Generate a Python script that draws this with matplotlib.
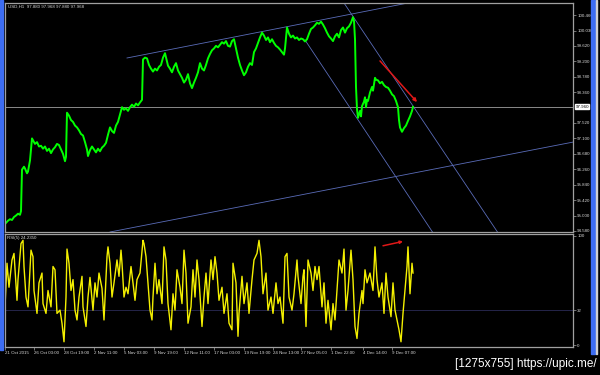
import numpy as np
import matplotlib.pyplot as plt
from matplotlib.patches import Rectangle

plt.rcParams['font.family'] = ['Liberation Sans', 'DejaVu Sans']

# hourly USD index, sampled off the chart (x = bar position on screen)
price_bar = [6, 8, 10, 12, 14, 16, 18, 20, 21, 22, 24, 25, 27, 28, 30, 32, 33, 35, 37, 39,
             41, 43, 45, 47, 49, 51, 53, 55, 57, 59, 61, 63, 65, 66, 67, 69, 71, 73, 75, 77,
             79, 81, 83, 85, 87, 88, 90, 92, 94, 96, 98, 100, 102, 104, 106, 108, 110, 112, 114, 116,
             118, 120, 122, 124, 126, 128, 130, 132, 134, 136, 138, 140, 142, 143, 145, 147, 149, 151, 153, 155,
             157, 159, 161, 163, 165, 167, 168, 170, 172, 174, 176, 178, 180, 182, 184, 186, 188, 190, 192, 194,
             196, 198, 200, 202, 204, 206, 208, 210, 212, 214, 216, 218, 220, 222, 224, 226, 228, 230, 232, 234,
             236, 238, 240, 242, 244, 246, 248, 250, 252, 254, 256, 258, 260, 262, 264, 266, 268, 270, 272, 274,
             276, 278, 280, 282, 284, 285, 287, 289, 291, 293, 295, 297, 299, 301, 303, 305, 307, 309, 311, 313,
             315, 317, 319, 321, 323, 325, 327, 329, 331, 333, 335, 337, 339, 341, 343, 345, 347, 349, 351, 353,
             354, 355, 356, 357, 358, 360, 361, 362, 364, 365, 366, 367, 368, 370, 372, 373, 375, 376, 378, 380,
             382, 384, 386, 388, 390, 392, 394, 396, 398, 399, 400, 402, 404, 406, 408, 410, 412, 413]
price = [94.80, 94.86, 94.90, 94.88, 94.96, 95.00, 95.05, 95.02, 95.12, 96.25, 96.33, 96.28, 96.15, 96.20, 96.50, 97.10, 97.05, 96.95, 97.00, 96.88,
         96.90, 96.82, 96.88, 96.76, 96.82, 96.70, 96.80, 96.86, 96.95, 96.92, 96.80, 96.68, 96.48, 96.60, 97.80, 97.72, 97.60, 97.55, 97.45, 97.40,
         97.32, 97.22, 97.18, 97.00, 96.80, 96.62, 96.78, 96.88, 96.80, 96.72, 96.82, 96.75, 96.85, 96.90, 96.98, 97.20, 97.40, 97.30, 97.25, 97.45,
         97.55, 97.75, 97.95, 97.88, 97.92, 97.85, 97.95, 98.02, 97.96, 98.05, 98.00, 98.08, 98.15, 99.25, 99.30, 99.28, 99.10, 99.00, 98.92, 99.00,
         98.95, 99.05, 99.10, 99.30, 99.42, 99.20, 99.08, 99.00, 98.90, 99.05, 99.15, 98.95, 98.85, 98.75, 98.62, 98.70, 98.85, 98.60, 98.47, 98.62,
         98.75, 98.90, 99.15, 99.00, 98.95, 99.10, 99.28, 99.40, 99.50, 99.55, 99.62, 99.58, 99.65, 99.72, 99.68, 99.75, 99.62, 99.60, 99.75, 99.80,
         99.55, 99.30, 99.10, 98.95, 98.82, 98.90, 99.05, 99.15, 99.10, 99.45, 99.55, 99.70, 99.85, 99.98, 99.90, 99.78, 99.85, 99.72, 99.80, 99.70,
         99.62, 99.58, 99.52, 99.45, 99.38, 99.55, 100.12, 99.95, 99.85, 99.90, 99.82, 99.85, 99.78, 99.82, 99.80, 99.74, 99.80, 99.95, 100.08, 100.12,
         100.18, 100.25, 100.22, 100.28, 100.20, 100.10, 99.98, 99.88, 99.82, 99.75, 99.88, 99.95, 99.85, 100.05, 100.12, 99.98, 100.10, 100.15, 100.25, 100.40,
         100.30, 99.80, 98.50, 97.90, 97.66, 97.85, 97.70, 97.98, 98.10, 98.22, 97.95, 98.15, 98.12, 98.35, 98.50, 98.40, 98.75, 98.70, 98.68, 98.60,
         98.64, 98.55, 98.50, 98.48, 98.40, 98.30, 98.25, 98.12, 97.95, 97.60, 97.40, 97.28, 97.38, 97.45, 97.58, 97.70, 97.85, 97.96]

rsi_bar = [5, 7, 9, 12, 14, 17, 18, 21, 23, 24, 26, 28, 31, 33, 34, 37, 39, 42, 43, 46,
           48, 51, 53, 55, 57, 60, 62, 64, 66, 67, 69, 71, 73, 75, 77, 79, 82, 83, 86, 88,
           90, 93, 95, 97, 99, 102, 104, 107, 108, 110, 112, 114, 117, 119, 121, 122, 124, 126, 128, 131,
           133, 135, 137, 140, 143, 144, 146, 148, 150, 152, 153, 155, 157, 159, 162, 164, 166, 168, 171, 173,
           175, 177, 180, 182, 184, 186, 188, 191, 193, 195, 197, 199, 202, 204, 206, 208, 211, 213, 215, 217,
           219, 222, 224, 227, 229, 232, 233, 236, 238, 239, 242, 244, 247, 249, 252, 254, 257, 259, 261, 263,
           266, 268, 271, 273, 276, 278, 280, 283, 285, 287, 289, 292, 294, 297, 298, 301, 303, 304, 306, 308,
           311, 313, 315, 317, 319, 322, 324, 326, 328, 331, 333, 335, 337, 339, 342, 344, 346, 348, 351, 353,
           355, 357, 359, 362, 363, 365, 367, 370, 373, 375, 377, 379, 382, 384, 386, 388, 391, 393, 395, 397,
           399, 401, 403, 405, 407, 408, 410, 412, 413]
rsi = [35, 75, 53, 78, 84, 41, 60, 93, 96, 72, 44, 35, 87, 81, 50, 29, 57, 66, 38, 29,
       50, 35, 72, 69, 29, 32, 20, 3, 44, 88, 75, 50, 60, 32, 23, 44, 63, 35, 17, 44,
       62, 32, 57, 44, 66, 52, 23, 81, 90, 75, 44, 57, 78, 63, 87, 75, 44, 53, 47, 72,
       57, 41, 60, 66, 96, 93, 81, 57, 32, 23, 44, 75, 47, 60, 38, 90, 78, 38, 14, 47,
       32, 69, 53, 38, 87, 66, 20, 35, 69, 44, 78, 60, 17, 44, 66, 38, 78, 60, 81, 66,
       41, 53, 29, 47, 20, 14, 75, 57, 8, 29, 63, 38, 57, 29, 60, 78, 84, 96, 81, 47,
       66, 32, 44, 29, 57, 38, 44, 20, 81, 84, 44, 32, 47, 78, 63, 38, 63, 69, 17, 78,
       66, 50, 72, 60, 72, 35, 57, 20, 41, 14, 38, 23, 50, 78, 66, 88, 32, 50, 87, 60,
       17, 6, 29, 50, 38, 69, 57, 66, 50, 90, 60, 44, 57, 29, 66, 44, 26, 57, 32, 23,
       14, 3, 29, 50, 72, 90, 47, 75, 66]

price_ticks = [94.58, 95.00, 95.42, 95.84, 96.26, 96.68, 97.10, 97.52, 98.36, 98.78, 99.20, 99.62, 100.03, 100.46]
price_tick_labels = ['94.580', '95.000', '95.420', '95.840', '96.260', '96.680', '97.100', '97.520',
                     '98.360', '98.780', '99.200', '99.620', '100.030', '100.460']
last_price = 97.96
rsi_level = 32

date_bars = [5, 34, 64, 94, 124, 154, 184, 214, 244, 273, 301, 331, 363, 392]
date_labels = ['21 Oct 2015', '26 Oct 03:00', '28 Oct 19:00', '2 Nov 11:00', '5 Nov 03:00',
               '9 Nov 19:00', '12 Nov 11:00', '17 Nov 03:00', '19 Nov 19:00', '24 Nov 13:00',
               '27 Nov 05:00', '1 Dec 22:00', '4 Dec 14:00', '9 Dec 07:00']

# trend lines drawn on the chart: (bar, price) end points
channel_up = [(127, 99.29), (408, 100.787)]
channel_low = [(110, 94.552), (573, 97.00)]
channel_dn1 = [(305, 99.78), (433, 94.53)]
channel_dn2 = [(344, 100.787), (498, 94.53)]
arrow_price = [(380, 99.21), (417, 98.09)]
arrow_rsi = [(383, 91), (403, 95)]

W, H = 600, 375
fig = plt.figure(figsize=(6, 3.75), dpi=100, facecolor='black')
ax = fig.add_axes([5 / W, 1 - 232 / H, 568 / W, 229 / H], facecolor='black')
ax2 = fig.add_axes([5 / W, 1 - 347 / H, 568 / W, 113 / H], facecolor='black')

frame = '#a0a0a0'
txt = '#d8d8d8'
line_blue = '#5a6cb8'

for a in (ax, ax2):
    for s in a.spines.values():
        s.set_color(frame)
        s.set_linewidth(0.9)
    a.set_xlim(5, 573)
    a.yaxis.tick_right()
    a.tick_params(axis='both', colors=frame, labelcolor=txt, labelsize=3.2,
                  length=2, width=0.5, pad=1)

# price panel
ax.axhline(last_price, color='#8a8a8a', lw=0.7)
for seg in (channel_up, channel_low, channel_dn1, channel_dn2):
    xs, ys = zip(*seg)
    ax.plot(xs, ys, color=line_blue, lw=0.6)
ax.plot(price_bar, price, color='#00ff00', lw=1.4)
ax.annotate('', xy=arrow_price[1], xytext=arrow_price[0],
            arrowprops=dict(arrowstyle='-|>', color='#e01818', lw=1.1,
                            mutation_scale=5, shrinkA=0, shrinkB=0))
ax.set_ylim(94.552, 100.787)
ax.set_yticks(price_ticks)
ax.set_yticklabels(price_tick_labels)
ax.set_xticks([])
ax.text(1.004, last_price, '97.960', transform=ax.get_yaxis_transform(),
        fontsize=3.2, color='black', va='center', ha='left',
        bbox=dict(boxstyle='square,pad=0.15', fc='white', ec='white'))
ax.text(8, 100.70, 'USD,H1  97.880 97.968 97.880 97.968', fontsize=3.2, color=txt, va='center')

# RSI panel
ax2.axhline(rsi_level, color='#25254a', lw=0.7)
ax2.plot(rsi_bar, rsi, color='#f4f000', lw=1.0)
ax2.annotate('', xy=arrow_rsi[1], xytext=arrow_rsi[0],
             arrowprops=dict(arrowstyle='-|>', color='#e01818', lw=1.1,
                             mutation_scale=4, shrinkA=0, shrinkB=0))
ax2.set_ylim(-1.8, 101.8)
ax2.set_yticks([100, rsi_level, 0])
ax2.set_yticklabels(['100', str(rsi_level), '0'])
ax2.set_xticks(date_bars)
ax2.set_xticklabels(date_labels, ha='left')
ax2.text(7, 98, 'RSI(5) 24.2350', fontsize=3.2, color=txt, va='center')

# window frame strips of the screenshot
fig.patches.append(Rectangle((0, 1 - 350 / H), 3 / W, 350 / H, transform=fig.transFigure,
                             color='#3d6df2', zorder=0))
fig.patches.append(Rectangle((591 / W, 1 - 354 / H), 3.5 / W, 354 / H, transform=fig.transFigure,
                             color='#3d6df2', zorder=0))
fig.patches.append(Rectangle((595.5 / W, 1 - 354 / H), 1 / W, 354 / H, transform=fig.transFigure,
                             color='#d0d0d0', zorder=0))

fig.text(597 / W, 1 - 364 / H, '[1275x755] https://upic.me/', fontsize=8.5, color='white',
         ha='right', va='center')

fig.savefig('out.png', dpi=100, facecolor='black')
